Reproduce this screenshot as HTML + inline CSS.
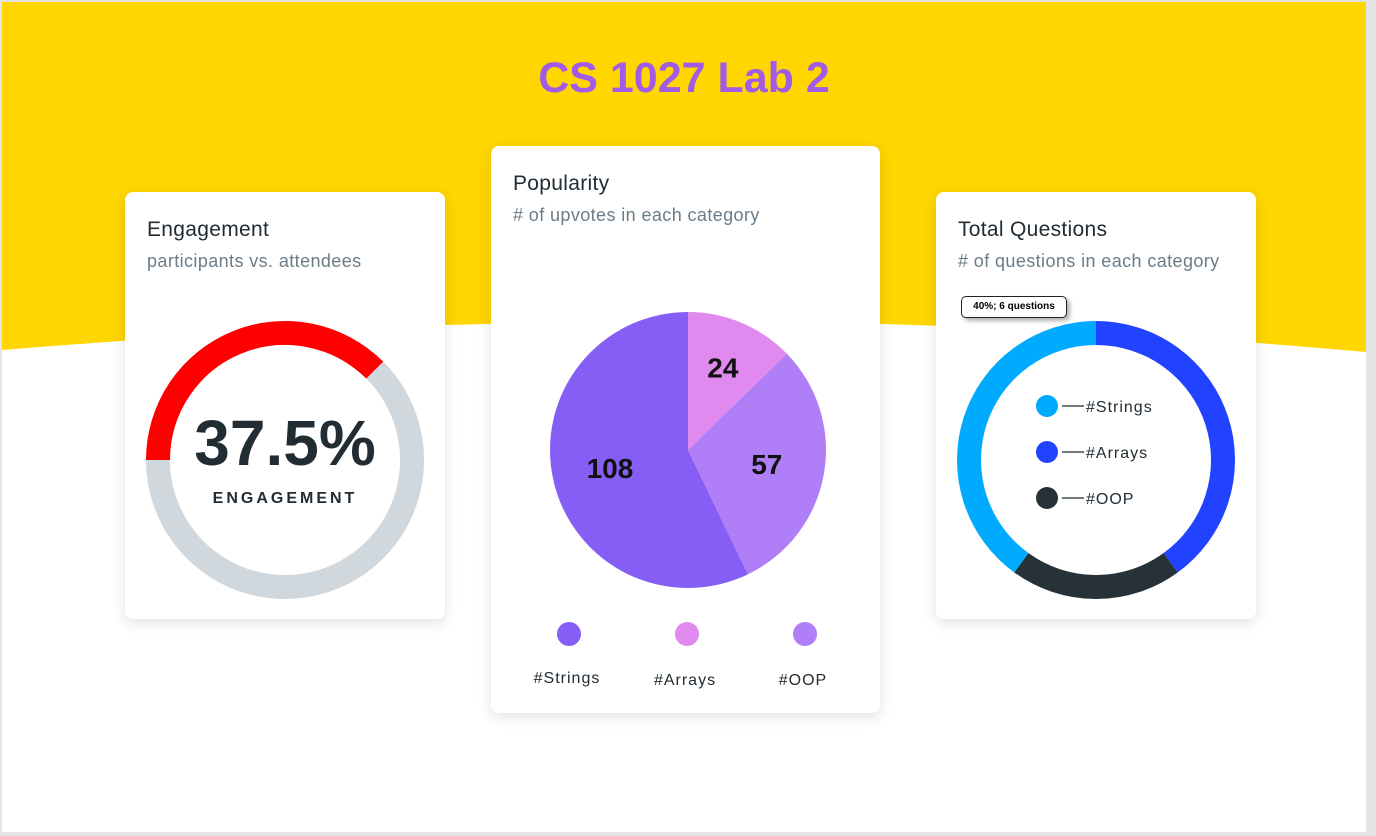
<!DOCTYPE html>
<html><head><meta charset="utf-8"><style>
body{margin:0;width:1376px;height:836px;background:#e4e4e4;font-family:"Liberation Sans",sans-serif;overflow:hidden;position:relative}
.page{position:absolute;left:2px;top:2px;width:1364px;height:830px;background:#fff;overflow:hidden}
.card{position:absolute;background:#fff;border-radius:8px;box-shadow:0 4px 14px rgba(0,0,0,0.12)}
.t{position:absolute;font-size:21px;color:#222c33;letter-spacing:.3px}
.s{position:absolute;font-size:18px;color:#6b7c87;letter-spacing:.4px}
</style></head><body>
<div class="page">
<svg width="1364" height="830" style="position:absolute;left:0;top:0">
<path d="M0 0H1364V350Q700 290 0 348Z" fill="#ffd600"/></svg>
<div style="position:absolute;left:0;width:1364px;top:52px;text-align:center;font-size:43px;font-weight:bold;color:#a15be6">CS 1027 Lab 2</div>

<div class="card" style="left:123px;top:190px;width:320px;height:427px">
<div class="t" style="left:22px;top:26px">Engagement</div>
<div class="s" style="left:22px;top:59px">participants vs. attendees</div>
<svg id="eng" width="320" height="427" style="position:absolute;left:0;top:0"></svg>
<div style="position:absolute;left:0;width:320px;top:214px;text-align:center;font-size:64px;font-weight:bold;color:#222c33">37.5%</div>
<div style="position:absolute;left:0;width:320px;top:298px;text-align:center;font-size:16px;font-weight:bold;letter-spacing:3px;color:#222c33">ENGAGEMENT</div>
</div>

<div class="card" style="left:489px;top:144px;width:389px;height:567px">
<div class="t" style="left:22px;top:26px">Popularity</div>
<div class="s" style="left:22px;top:59px"># of upvotes in each category</div>
<svg id="pie" width="389" height="567" style="position:absolute;left:0;top:0"></svg>
</div>

<div class="card" style="left:934px;top:190px;width:320px;height:427px">
<div class="t" style="left:22px;top:26px">Total Questions</div>
<div class="s" style="left:22px;top:59px"># of questions in each category</div>
<svg id="don" width="320" height="427" style="position:absolute;left:0;top:0"></svg>
<div style="position:absolute;left:25px;top:104px;width:104px;height:20px;border:1px solid #222;border-radius:5px;background:#fff;box-shadow:3px 3px 4px rgba(0,0,0,0.3);font-size:10px;font-weight:bold;line-height:20px;text-align:center">40%; 6 questions</div>
</div>
</div>
<script>
const engCats=['Engaged','Not engaged'];
const engVals=[37.5,62.5];
const pieCats=['#Arrays','#OOP','#Strings'];
const pieVals=[24,57,108];
const legendCats=['#Strings','#Arrays','#OOP'];
const qCats=['#Arrays','#OOP','#Strings'];
const qVals=[6,3,6];
const NS='http://www.w3.org/2000/svg';
function mk(svg,tag,a){const e=document.createElementNS(NS,tag);for(const k in a)e.setAttribute(k,a[k]);svg.appendChild(e);return e;}
function pt(cx,cy,r,a){return [cx+r*Math.sin(a),cy-r*Math.cos(a)];}
function arc(svg,cx,cy,r,a0,a1,w,col){const p0=pt(cx,cy,r,a0),p1=pt(cx,cy,r,a1);
 const e=mk(svg,'path',{d:`M${p0[0]} ${p0[1]}A${r} ${r} 0 ${a1-a0>Math.PI?1:0} 1 ${p1[0]} ${p1[1]}`,fill:'none',stroke:col,'stroke-width':w});return e;}
// engagement
const eng=document.getElementById('eng');
let tot=engVals.reduce((a,b)=>a+b,0),a=-Math.PI/2;const ec=['#ff0000','#d0d8dd'];
engVals.forEach((v,i)=>{const a1=a+v/tot*2*Math.PI;const e=arc(eng,160,268,127,a,a1,24,ec[i]);

a=a1;});
// pie
const pie=document.getElementById('pie');const pc=['#e08af0','#b07ff7','#875ef5'];
tot=pieVals.reduce((a,b)=>a+b,0);a=0;const cx=197,cy=304,R=138;
pieVals.forEach((v,i)=>{const a1=a+v/tot*2*Math.PI;const p0=pt(cx,cy,R,a),p1=pt(cx,cy,R,a1);
 const e=mk(pie,'path',{d:`M${cx} ${cy}L${p0[0]} ${p0[1]}A${R} ${R} 0 ${a1-a>Math.PI?1:0} 1 ${p1[0]} ${p1[1]}Z`,fill:pc[i]});
 
 
 const m=(a+a1)/2;const lp=pt(cx,cy,R*(v/tot<0.2?0.65:0.58),m);
 const t=mk(pie,'text',{x:lp[0],y:lp[1]+10,'text-anchor':'middle','font-size':28,'font-weight':'bold',fill:'#111'});t.textContent=v;
 
 
 a=a1;});
const lc={'#Strings':'#875ef5','#Arrays':'#e08af0','#OOP':'#b07ff7'};
legendCats.forEach((c,i)=>{const x=78+i*118;
 const d=mk(pie,'circle',{cx:x,cy:488,r:12,fill:lc[c]});
 
 
 const t=mk(pie,'text',{x:x-2,y:[537,539,539][i],'text-anchor':'middle','font-size':16,fill:'#222c33','letter-spacing':1});t.textContent=c;
 
 });
// donut
const don=document.getElementById('don');const qc={'#Arrays':'#2142ff','#OOP':'#263238','#Strings':'#00aaff'};
tot=qVals.reduce((a,b)=>a+b,0);a=0;
qVals.forEach((v,i)=>{const a1=a+v/tot*2*Math.PI;const e=arc(don,160,268,127,a,a1,24,qc[qCats[i]]);
 
 a=a1;});
legendCats.forEach((c,i)=>{const y=214+i*46;
 const d=mk(don,'circle',{cx:111,cy:y,r:11,fill:qc[c]});
 
 
 mk(don,'line',{x1:126,x2:148,y1:y,y2:y,stroke:'#222c33','stroke-width':1.2});
 const t=mk(don,'text',{x:150,y:y+6,'font-size':16,fill:'#222c33','letter-spacing':1});t.textContent=c;
 
 });
</script>
</body></html>
